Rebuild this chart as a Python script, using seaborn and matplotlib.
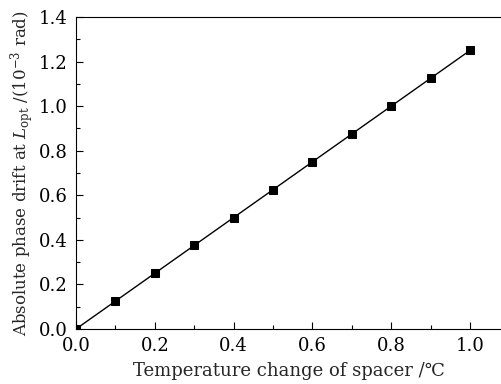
import matplotlib
matplotlib.use("Agg")
import matplotlib.pyplot as plt
from matplotlib.ticker import MultipleLocator, FormatStrFormatter
import seaborn as sns
import pandas as pd

temperature_change = [0.0, 0.1, 0.2, 0.3, 0.4, 0.5, 0.6, 0.7, 0.8, 0.9, 1.0]
phase_drift = [0.0, 0.125, 0.25, 0.375, 0.5, 0.625, 0.75, 0.875, 1.0, 1.125, 1.25]

df = pd.DataFrame({"x": temperature_change, "y": phase_drift})

sns.set_style("ticks")
plt.rcParams['font.family'] = ['DejaVu Serif']
plt.rcParams['mathtext.fontset'] = 'dejavuserif'

fig = plt.figure(figsize=(5.01, 3.84), dpi=100)
ax = fig.add_axes([76/501, 55/384, 1 - 76/501, 312/384])
sns.lineplot(data=df, x="x", y="y", ax=ax, color="black", linewidth=1.0,
             marker="s", markersize=5.5, markeredgecolor="black", markerfacecolor="black")

ax.set_xlim(0, 425/394)
ax.set_ylim(0, 1.4)
ax.xaxis.set_major_locator(MultipleLocator(0.2))
ax.xaxis.set_minor_locator(MultipleLocator(0.1))
ax.yaxis.set_major_locator(MultipleLocator(0.2))
ax.yaxis.set_minor_locator(MultipleLocator(0.1))
ax.tick_params(axis="both", which="both", direction="in", labelsize=13, colors="black")
ax.tick_params(which="major", length=5, width=0.8)
ax.tick_params(which="minor", length=3, width=0.8)
ax.tick_params(axis="x", which="major", pad=6)
ax.tick_params(axis="y", which="major", pad=6)
ax.xaxis.set_major_formatter(FormatStrFormatter("%.1f"))
ax.yaxis.set_major_formatter(FormatStrFormatter("%.1f"))
for s in ["left", "bottom", "top"]:
    ax.spines[s].set_linewidth(0.8)
    ax.spines[s].set_color("black")
ax.spines["right"].set_visible(False)

ax.set_xlabel("Temperature change of spacer /\u2103", fontsize=13, labelpad=5)
ax.set_ylabel(r"Absolute phase drift at $L_{\mathrm{opt}}$ /(10$^{-3}$ rad)", fontsize=12, labelpad=2)

fig.savefig("out.png", dpi=100)
